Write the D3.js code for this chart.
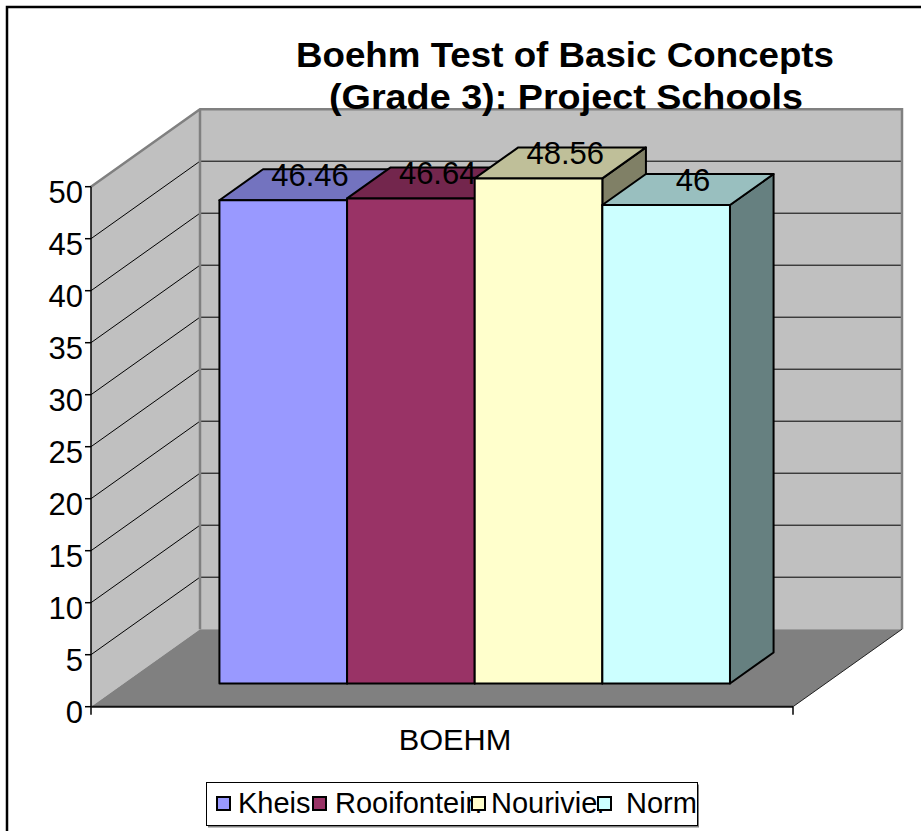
<!DOCTYPE html>
<html><head><meta charset="utf-8">
<script src="https://cdn.jsdelivr.net/npm/d3@7"></script>
<style>body{margin:0;background:#fff}svg{display:block}text{font-family:Arial,"Liberation Sans",sans-serif}</style>
</head><body>
<svg id="chart" width="921" height="831"></svg>
<script>
// ---- data ----
const categories = ["BOEHM"];
const seriesNames = ["Kheis", "Rooifontein", "Nourivier", "Norm"];
const seriesValues = [46.46, 46.64, 48.56, 46];
const seriesColors = ["#9999FF", "#993366", "#FFFFCC", "#CCFFFF"];
const yTicks = [0, 5, 10, 15, 20, 25, 30, 35, 40, 45, 50];
const valueLabels = ["46.46", "46.64", "48.56", "46"];
const titleLines = ["Boehm Test of Basic Concepts", "(Grade 3): Project Schools"];

// ---- layout ----
const svg = d3.select("#chart");
const X0 = 91, X1 = 793, Y0 = 706.7;           // front plane of plot
const DX = 109, DY = -77.5;                      // depth vector
const yH = d3.scaleLinear().domain([0, 50]).range([0, 520]);
const xCat = d3.scaleBand().domain(categories).range([X0, X1]);
const xSer = d3.scaleBand().domain(seriesNames)
  .range([xCat(categories[0]), xCat(categories[0]) + xCat.bandwidth()])
  .paddingInner(0).paddingOuter(0.75);
const P = (x, v, d) => [x + DX * d, Y0 - yH(v) + DY * d];
const poly = pts => pts.map(p => p.join(",")).join(" ");
const shade = (c, k) => { const r = d3.rgb(c); return d3.rgb(r.r * k, r.g * k, r.b * k).toString(); };

// frame
svg.append("rect").attr("x", 7).attr("y", 7).attr("width", 940).attr("height", 860)
  .attr("fill", "#fff").attr("stroke", "#000").attr("stroke-width", 2.5);

// walls
const vMax = 50;
svg.append("polygon").attr("points", poly([P(X0, 0, 1), P(X1, 0, 1), P(X1, vMax, 1), P(X0, vMax, 1)]))
  .attr("fill", "#C0C0C0");
svg.append("polygon").attr("points", poly([P(X0, 0, 0), P(X0, 0, 1), P(X0, vMax, 1), P(X0, vMax, 0)]))
  .attr("fill", "#C0C0C0");
svg.append("polygon").attr("points", poly([P(X0, 0, 0), P(X1, 0, 0), P(X1, 0, 1), P(X0, 0, 1)]))
  .attr("fill", "#808080");

// gridlines
const grid = yTicks.filter(t => t > 0 && t < vMax);
svg.append("g").selectAll("polyline").data(grid).join("polyline")
  .attr("points", t => poly([P(X0, t, 0), P(X0, t, 1), P(X1, t, 1)]))
  .attr("fill", "none").attr("stroke", "#000").attr("stroke-width", 1);

// wall edges
svg.append("polyline").attr("points", poly([P(X0, vMax, 0), P(X0, vMax, 1), P(X1, vMax, 1), P(X1, 0, 1)]))
  .attr("fill", "none").attr("stroke", "#808080").attr("stroke-width", 2.5);
svg.append("line").attr("x1", P(X0, 0, 1)[0]).attr("y1", P(X0, 0, 1)[1])
  .attr("x2", P(X0, vMax, 1)[0]).attr("y2", P(X0, vMax, 1)[1])
  .attr("stroke", "#808080").attr("stroke-width", 2.5);
svg.append("line").attr("x1", P(X1, 0, 0)[0]).attr("y1", P(X1, 0, 0)[1])
  .attr("x2", P(X1, 0, 1)[0]).attr("y2", P(X1, 0, 1)[1])
  .attr("stroke", "#222").attr("stroke-width", 1);

// bars
const D0 = 0.3, D1 = 0.7;
const bars = svg.append("g").selectAll("g").data(seriesNames).join("g");
bars.each(function (name, i) {
  const g = d3.select(this), v = seriesValues[i], c = seriesColors[i];
  const a = xSer(name), b = a + xSer.bandwidth();
  g.append("polygon").attr("points", poly([P(b, 0, D0), P(b, 0, D1), P(b, v, D1), P(b, v, D0)]))
    .attr("fill", shade(c, 0.5));
  g.append("polygon").attr("points", poly([P(a, v, D0), P(b, v, D0), P(b, v, D1), P(a, v, D1)]))
    .attr("fill", shade(c, 0.75));
  g.append("polygon").attr("points", poly([P(a, 0, D0), P(b, 0, D0), P(b, v, D0), P(a, v, D0)]))
    .attr("fill", c);
  g.selectAll("polygon").attr("stroke", "#000").attr("stroke-width", 2).attr("stroke-linejoin", "round");
});

// value labels
svg.append("g").selectAll("text").data(seriesNames).join("text")
  .attr("x", (n, i) => P(xSer(n) + xSer.bandwidth() / 2, seriesValues[i], 0.5)[0] + 5)
  .attr("y", (n, i) => P(xSer(n) + xSer.bandwidth() / 2, seriesValues[i], 0.5)[1] + 1)
  .attr("text-anchor", "middle").attr("font-size", 31).attr("fill", "#000")
  .text((n, i) => valueLabels[i]);

// value axis
const ax = svg.append("g");
ax.append("line").attr("x1", X0).attr("x2", X0).attr("y1", P(X0, vMax, 0)[1]).attr("y2", Y0 + 8)
  .attr("stroke", "#000").attr("stroke-width", 1.5);
ax.selectAll("line.tk").data(yTicks).join("line").attr("class", "tk")
  .attr("x1", X0 - 6).attr("x2", X0).attr("y1", t => P(X0, t, 0)[1]).attr("y2", t => P(X0, t, 0)[1])
  .attr("stroke", "#000").attr("stroke-width", 1.5);
ax.selectAll("text").data(yTicks).join("text")
  .attr("x", X0 - 8).attr("y", t => P(X0, t, 0)[1] + 16)
  .attr("text-anchor", "end").attr("font-size", 31).text(t => t);

// category axis
svg.append("line").attr("x1", X0).attr("x2", X1).attr("y1", Y0).attr("y2", Y0)
  .attr("stroke", "#111").attr("stroke-width", 2);
svg.append("line").attr("x1", X1).attr("x2", X1).attr("y1", Y0).attr("y2", Y0 + 8)
  .attr("stroke", "#000").attr("stroke-width", 1.5);
svg.append("g").selectAll("text").data(categories).join("text")
  .attr("transform", c => `translate(${xCat(c) + xCat.bandwidth() / 2 + 13},750) scale(1.06,1)`)
  .attr("text-anchor", "middle").attr("font-size", 29).text(c => c);

// title
const titleX = [296, 329], titleY = [67, 109], titleW = [538, 474];
svg.append("g").selectAll("text").data(titleLines).join("text")
  .attr("x", (t, i) => titleX[i]).attr("y", (t, i) => titleY[i])
  .attr("textLength", (t, i) => titleW[i]).attr("lengthAdjust", "spacingAndGlyphs")
  .attr("font-size", 35).attr("font-weight", "bold").text(t => t);

// legend
const lg = svg.append("g");
lg.append("rect").attr("x", 208).attr("y", 784.5).attr("width", 491).attr("height", 43).attr("fill", "#808080");
lg.append("rect").attr("x", 206.5).attr("y", 782.5).attr("width", 491).attr("height", 43)
  .attr("fill", "#fff").attr("stroke", "#000").attr("stroke-width", 1);
const legSq = [217, 313, 472, 598], legTx = [238, 335, 491, 626];
lg.selectAll("g").data(seriesNames).join("g").each(function (n, i) {
  const g = d3.select(this);
  g.append("text").attr("transform", `translate(${legTx[i]},813)`)
    .attr("font-size", 29).text(n);
});
lg.selectAll("rect.sq").data(seriesNames).join("rect").attr("class", "sq")
  .attr("x", (n, i) => legSq[i]).attr("y", 797).attr("width", 13).attr("height", 13)
  .attr("fill", (n, i) => seriesColors[i]).attr("stroke", "#000").attr("stroke-width", 2);
</script>
</body></html>
